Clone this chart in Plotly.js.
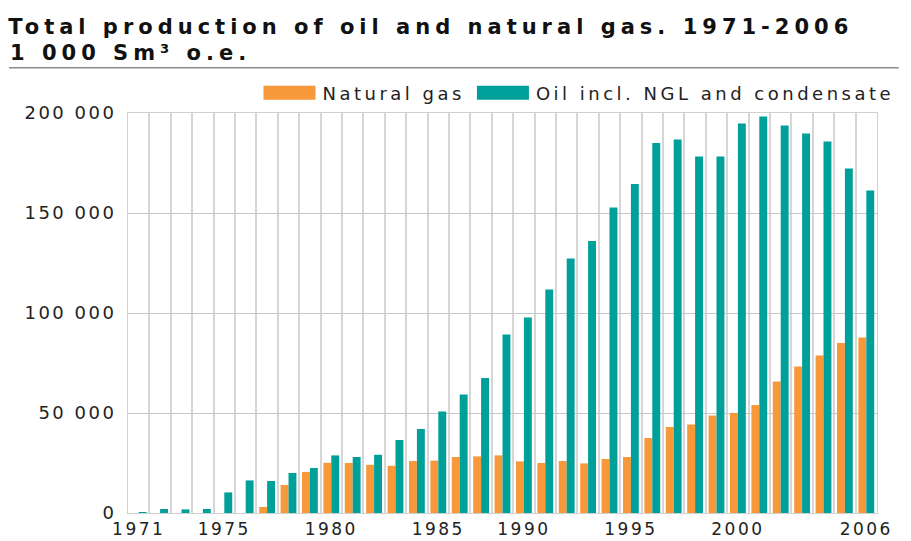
<!DOCTYPE html>
<html>
<head>
<meta charset="utf-8">
<script src="https://cdn.plot.ly/plotly-3.0.1.min.js"></script>
<style>
  body { margin: 0; background: #fff; }
  /* the source picture is stretched sideways, so spread the letters a bit */
  svg text { letter-spacing: 2.5px; }
  svg text.legendtext { letter-spacing: 3.5px; }
  svg text.gtitle, svg text.annotation-text { letter-spacing: 5px; }
</style>
</head>
<body>
<div id="chart" style="width:911px;height:541px;"></div>
<script>
// 1989 has no bar in the source picture, so it is left out here too
var years = [
  "1971", "1972", "1973", "1974", "1975", "1976", "1977", "1978", "1979",
  "1980", "1981", "1982", "1983", "1984", "1985", "1986", "1987", "1988",
  "1990", "1991", "1992", "1993", "1994", "1995", "1996", "1997", "1998",
  "1999", "2000", "2001", "2002", "2003", "2004", "2005", "2006"
];
var gas = [
  0, 0, 0, 0, 0, 0, 3000, 14000, 20500,
  25100, 25000, 24100, 23600, 26000, 26200, 28000, 28300, 28800,
  25800, 25000, 26000, 24800, 27000, 28000, 37500, 43000, 44200,
  48700, 50000, 54000, 65700, 73300, 78700, 85000, 87700
];
var oil = [
  500, 2000, 1800, 2000, 10300, 16300, 16000, 20000, 22500,
  28800, 28000, 29100, 36500, 42000, 50800, 59200, 67500, 89200,
  97800, 111700, 127300, 136000, 152700, 164500, 185000, 186700, 178300,
  178300, 194700, 198300, 193700, 189700, 185700, 172300, 161300
];
var tickYears = ["1971", "1975", "1980", "1985", "1990", "1995", "2000", "2006"];

var gasColor = "#f7993a";
var oilColor = "#00a09a";
var textFont = { family: "DejaVu Sans, sans-serif", size: 17, color: "#222" };
var yTickFont = { family: "DejaVu Sans, sans-serif", size: 18, color: "#222" };
var legendFont = { family: "DejaVu Sans, sans-serif", size: 18, color: "#222" };
var headFont = { family: "DejaVu Sans, sans-serif", size: 21, color: "#111" };

var traceGas = {
  type: "bar",
  x: years,
  y: gas,
  name: "Natural gas",
  marker: { color: gasColor },
};
var traceOil = {
  type: "bar",
  x: years,
  y: oil,
  name: "Oil incl. NGL and condensate",
  marker: { color: oilColor },
};
// invisible helper so the label axis knows the categories
var traceLabels = {
  type: "scatter",
  mode: "markers",
  x: years,
  y: years.map(function () { return 0; }),
  xaxis: "x2",
  marker: { opacity: 0 },
  showlegend: false,
  hoverinfo: "skip",
};

var xRange = [-0.5, years.length - 0.5];

var layout = {
  width: 911,
  height: 541,
  margin: { l: 128, r: 28, t: 113, b: 28 },
  paper_bgcolor: "#fff",
  plot_bgcolor: "#fff",
  separators: ", ",
  font: textFont,
  title: {
    text: "<b>Total production of oil and natural gas. 1971-2006</b>",
    font: headFont,
    xref: "container",
    yref: "container",
    x: 0.009,
    xanchor: "left",
    y: 0.95,
    yanchor: "middle",
  },
  annotations: [
    {
      text: "<b>1 000 Sm³ o.e.</b>",
      font: headFont,
      xref: "paper",
      yref: "paper",
      x: -0.16,
      xanchor: "left",
      y: 1.15,
      yanchor: "middle",
      showarrow: false,
    },
  ],
  barmode: "group",
  bargap: 0.26,
  bargroupgap: 0,
  showlegend: true,
  legend: {
    orientation: "h",
    x: 1.03,
    xanchor: "right",
    y: 1.05,
    yanchor: "middle",
    font: legendFont,
    traceorder: "normal",
    itemwidth: 56,
    bgcolor: "rgba(0,0,0,0)",
  },
  xaxis: {
    type: "category",
    range: xRange,
    tickmode: "linear",
    tick0: 0,
    dtick: 1,
    tickson: "boundaries",
    showgrid: true,
    gridcolor: "#d6d6d6",
    gridwidth: 2,
    showticklabels: false,
    ticks: "",
    showline: true,
    linecolor: "#d0d0d0",
    linewidth: 1,
    mirror: true,
    fixedrange: true,
  },
  xaxis2: {
    type: "category",
    overlaying: "x",
    anchor: "y",
    side: "bottom",
    range: xRange,
    tickmode: "array",
    tickvals: tickYears,
    ticktext: tickYears,
    showgrid: false,
    ticks: "",
    ticklabelstandoff: 4,
    tickfont: textFont,
    fixedrange: true,
  },
  yaxis: {
    range: [0, 200000],
    tickmode: "linear",
    tick0: 0,
    dtick: 50000,
    exponentformat: "none",
    separatethousands: true,
    showgrid: true,
    gridcolor: "#c8c8c8",
    gridwidth: 1,
    zeroline: false,
    showline: true,
    linecolor: "#d0d0d0",
    mirror: true,
    ticks: "",
    ticklabelstandoff: 7,
    tickfont: yTickFont,
    fixedrange: true,
  },
  shapes: [
    {
      type: "line",
      xref: "paper",
      yref: "paper",
      x0: -0.159,
      x1: 1.029,
      y0: 1.113,
      y1: 1.113,
      line: { color: "#8c8c8c", width: 1.5 },
    },
  ],
};

Plotly.newPlot("chart", [traceGas, traceOil, traceLabels], layout, {
  displayModeBar: false,
  staticPlot: true,
}).then(function () {
  // wide flat swatches like the original legend
  document.querySelectorAll("#chart .legendpoints path").forEach(function (p) {
    p.setAttribute("d", "M-26,7H26V-7H-26Z");
  });
});
</script>
</body>
</html>
